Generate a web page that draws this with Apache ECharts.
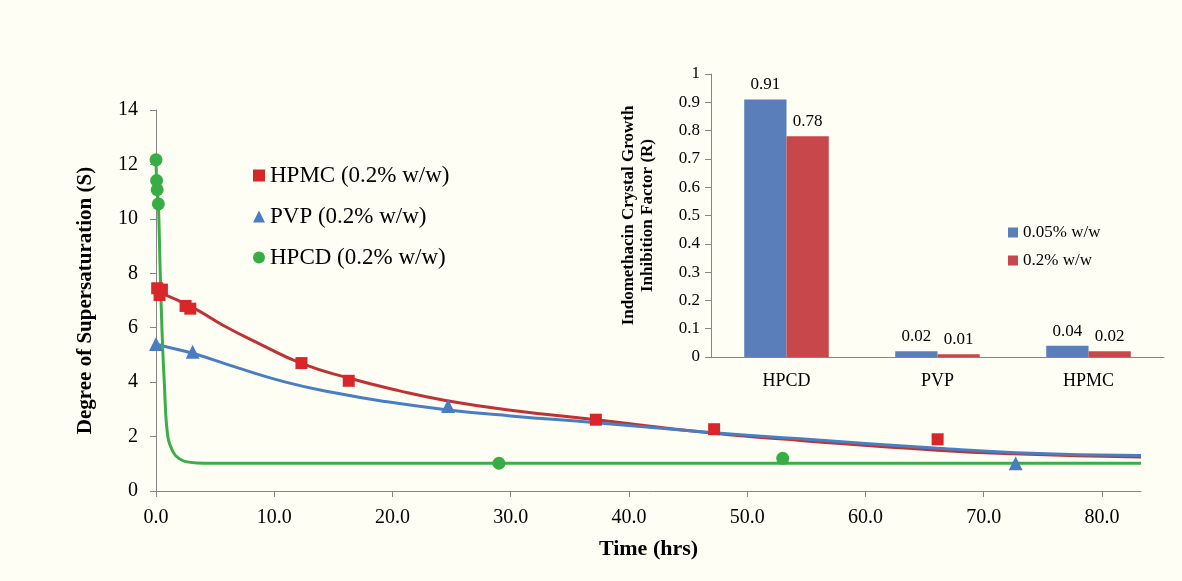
<!DOCTYPE html>
<html>
<head>
<meta charset="utf-8">
<script src="https://cdn.jsdelivr.net/npm/echarts@6/dist/echarts.min.js"></script>
<style>
  html, body { margin: 0; padding: 0; background: #fffef4; }
  #chart { width: 1182px; height: 581px; }
</style>
</head>
<body>
<div id="chart"></div>
<script>
// measured points (time in hrs, degree of supersaturation S)
const hpmcTime = [0.1, 0.3, 0.5, 2.5, 2.9, 12.3, 16.3, 37.2, 47.2, 66.1]
const hpmcS = [7.45, 7.2, 7.4, 6.8, 6.7, 4.7, 4.05, 2.62, 2.27, 1.9]
const pvpTime = [0, 3.1, 24.7, 72.7]
const pvpS = [5.4, 5.12, 3.12, 1.02]
const hpcdTime = [0, 0.05, 0.1, 0.2, 29, 53]
const hpcdS = [12.17, 11.41, 11.07, 10.55, 1.02, 1.2]

// fitted curves
const hpmcFitTime = [0.3, 3.2, 5.7, 8.8, 12.3, 16.3, 20.6, 24.6, 30, 37.2, 47.2, 54.5, 66.1, 72.5, 83.3]
const hpmcFitS = [7.3, 6.72, 6.08, 5.4, 4.69, 4.15, 3.68, 3.32, 2.97, 2.62, 2.12, 1.86, 1.5, 1.37, 1.25]
const pvpFitTime = [0, 0.6, 3.1, 6.6, 10.8, 15, 19.2, 24.7, 30, 37.2, 47.2, 54.5, 66.1, 72.7, 83.3]
const pvpFitS = [5.4, 5.33, 5.06, 4.57, 4.02, 3.62, 3.3, 2.98, 2.76, 2.51, 2.14, 1.92, 1.57, 1.41, 1.3]
const hpcdFitTime = [0, 0.05, 0.1, 0.2, 0.36, 0.5, 0.7, 1.0, 1.5, 2.0, 2.5, 3.5, 4.7, 29, 83.3]
const hpcdFitS = [12.17, 11.41, 11.07, 10.55, 8, 6, 4, 2, 1.39, 1.18, 1.08, 1.03, 1.02, 1.02, 1.02]

const xTicks = [0, 10, 20, 30, 40, 50, 60, 70, 80]

// inset bar chart
const insetCategories = ['HPCD', 'PVP', 'HPMC']
const r005 = [0.91, 0.02, 0.04]
const r02 = [0.78, 0.01, 0.02]

const serif = 'Liberation Serif'
const axisGrey = '#868686'

function pairs(xs, ys) {
  return xs.map((x, i) => [x, ys[i]])
}

const chart = echarts.init(document.getElementById('chart'))
const option = {
  backgroundColor: '#fffef4',
  textStyle: { fontFamily: serif, color: '#000' },
  animation: false,
  grid: [
    { left: 156, top: 110, width: 985, height: 381 },
    { left: 711, top: 74, width: 453, height: 283 }
  ],
  legend: [
    {
      left: 248,
      top: 159,
      orient: 'vertical',
      itemGap: 18,
      itemWidth: 12,
      itemHeight: 12,
      textStyle: { fontFamily: serif, fontSize: 23, color: '#000' },
      data: [
        { name: 'HPMC (0.2% w/w)', icon: 'rect' },
        { name: 'PVP (0.2% w/w)', icon: 'triangle' },
        { name: 'HPCD (0.2% w/w)', icon: 'circle' }
      ]
    },
    {
      left: 1003,
      top: 219,
      orient: 'vertical',
      itemGap: 11,
      itemWidth: 10,
      itemHeight: 10,
      textStyle: { fontFamily: serif, fontSize: 17, color: '#000' },
      data: [
        { name: '0.05% w/w', icon: 'rect' },
        { name: '0.2% w/w', icon: 'rect' }
      ]
    }
  ],
  xAxis: [
    {
      gridIndex: 0,
      type: 'value',
      min: 0,
      max: 83.3,
      name: 'Time (hrs)',
      nameLocation: 'middle',
      nameGap: 47,
      nameTextStyle: { fontFamily: serif, fontSize: 22, fontWeight: 'bold', color: '#000' },
      splitLine: { show: false },
      axisLine: { lineStyle: { color: axisGrey } },
      axisTick: { customValues: xTicks, length: 6, lineStyle: { color: axisGrey } },
      axisLabel: {
        customValues: xTicks,
        fontSize: 20,
        color: '#000',
        margin: 17,
        formatter: v => v.toFixed(1)
      }
    },
    {
      gridIndex: 1,
      type: 'category',
      data: insetCategories,
      axisLine: { lineStyle: { color: axisGrey } },
      axisTick: { length: 6, lineStyle: { color: axisGrey } },
      axisLabel: { fontSize: 18, color: '#000', margin: 15 }
    }
  ],
  yAxis: [
    {
      gridIndex: 0,
      type: 'value',
      min: 0,
      max: 14,
      interval: 2,
      name: 'Degree of Supersaturation (S)',
      nameLocation: 'middle',
      nameGap: 60,
      nameTextStyle: { fontFamily: serif, fontSize: 21, fontWeight: 'bold', color: '#000' },
      splitLine: { show: false },
      axisLine: { show: true, lineStyle: { color: axisGrey } },
      axisTick: { show: true, length: 6, lineStyle: { color: axisGrey } },
      axisLabel: { fontSize: 20, color: '#000', margin: 18 }
    },
    {
      gridIndex: 1,
      type: 'value',
      min: 0,
      max: 1,
      interval: 0.1,
      name: 'Indomethacin Crystal Growth\nInhibition Factor (R)',
      nameLocation: 'middle',
      nameGap: 54,
      nameTextStyle: { fontFamily: serif, fontSize: 17, fontWeight: 'bold', color: '#000', lineHeight: 19 },
      splitLine: { show: false },
      axisLine: { show: true, lineStyle: { color: axisGrey } },
      axisTick: { show: true, length: 6, lineStyle: { color: axisGrey } },
      axisLabel: {
        fontSize: 17,
        color: '#000',
        margin: 11,
        formatter: v => (v === 0 || v === 1 ? String(v) : v.toFixed(1))
      }
    }
  ],
  series: [
    {
      name: 'HPMC fit',
      type: 'line',
      xAxisIndex: 0,
      yAxisIndex: 0,
      data: pairs(hpmcFitTime, hpmcFitS),
      showSymbol: false,
      smooth: 0.5,
      lineStyle: { color: '#bf3234', width: 3 },
      z: 2
    },
    {
      name: 'PVP fit',
      type: 'line',
      xAxisIndex: 0,
      yAxisIndex: 0,
      data: pairs(pvpFitTime, pvpFitS),
      showSymbol: false,
      smooth: 0.5,
      lineStyle: { color: '#4a7ec3', width: 3 },
      z: 3
    },
    {
      name: 'HPCD fit',
      type: 'line',
      xAxisIndex: 0,
      yAxisIndex: 0,
      data: pairs(hpcdFitTime, hpcdFitS),
      showSymbol: false,
      smooth: 0.4,
      lineStyle: { color: '#3aae48', width: 3 },
      z: 4
    },
    {
      name: 'HPMC (0.2% w/w)',
      type: 'scatter',
      xAxisIndex: 0,
      yAxisIndex: 0,
      data: pairs(hpmcTime, hpmcS),
      symbol: 'rect',
      symbolSize: 12,
      itemStyle: { color: '#d8262a', opacity: 1 },
      z: 5
    },
    {
      name: 'PVP (0.2% w/w)',
      type: 'scatter',
      xAxisIndex: 0,
      yAxisIndex: 0,
      data: pairs(pvpTime, pvpS),
      symbol: 'triangle',
      symbolSize: 14,
      itemStyle: { color: '#4a7cc2', opacity: 1 },
      z: 5
    },
    {
      name: 'HPCD (0.2% w/w)',
      type: 'scatter',
      xAxisIndex: 0,
      yAxisIndex: 0,
      data: pairs(hpcdTime, hpcdS),
      symbol: 'circle',
      symbolSize: 13,
      itemStyle: { color: '#38ad46', opacity: 1 },
      z: 5
    },
    {
      name: '0.05% w/w',
      type: 'bar',
      xAxisIndex: 1,
      yAxisIndex: 1,
      data: r005,
      barGap: 0,
      barCategoryGap: '44%',
      itemStyle: { color: '#5a7eb9' },
      label: { show: true, position: 'top', distance: 6, fontSize: 17, color: '#000', formatter: p => p.value.toFixed(2) }
    },
    {
      name: '0.2% w/w',
      type: 'bar',
      xAxisIndex: 1,
      yAxisIndex: 1,
      data: r02,
      barGap: 0,
      barCategoryGap: '44%',
      itemStyle: { color: '#c8474b' },
      label: { show: true, position: 'top', distance: 6, fontSize: 17, color: '#000', formatter: p => p.value.toFixed(2) }
    }
  ]
}
chart.setOption(option)
</script>
</body>
</html>
